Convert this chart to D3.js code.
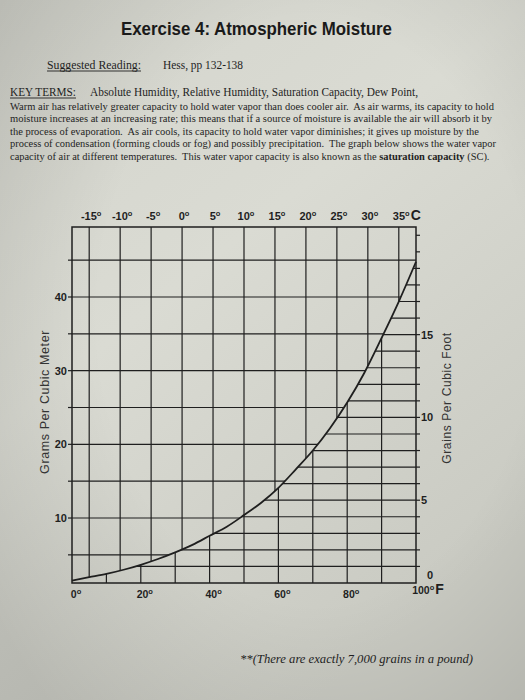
<!DOCTYPE html>
<html><head><meta charset="utf-8">
<script src="https://cdn.jsdelivr.net/npm/d3@7"></script>
<style>html,body{margin:0;padding:0;background:#d4d5cd;} svg{display:block}</style>
</head><body>
<script>
// ---- data ----
const tempF = [0,5,10,15,20,25,30,35,40,45,50,55,60,65,70,75,80,85,90,95,100];
const grainsPerCubicFoot = [0.15,0.35,0.55,0.8,1.1,1.45,1.85,2.3,2.85,3.4,4.1,4.85,5.75,6.85,8.0,9.35,10.9,12.7,14.8,17.0,19.4];
const celsiusTicks = [-15,-10,-5,0,5,10,15,20,25,30,35];
const fahrenheitTicks = [0,20,40,60,80,100];
const fahrenheitGrid = [10,20,30,40,50,60,70,80,90];
const gramTicks = [10,20,30,40];
const gramGrid = [5,10,15,20,25,30,35,40,45];
const grainTicks = [5,10,15];
const grainGrid = [1,2,3,4,5,6,7,8,9,10,11,12,13,14,15,16,17,18,19,20,21];
const titleText = "Exercise 4: Atmospheric Moisture";
const paragraphLines = [
  "Warm air has relatively greater capacity to hold water vapor than does cooler air.  As air warms, its capacity to hold",
  "moisture increases at an increasing rate; this means that if a source of moisture is available the air will absorb it by",
  "the process of evaporation.  As air cools, its capacity to hold water vapor diminishes; it gives up moisture by the",
  "process of condensation (forming clouds or fog) and possibly precipitation.  The graph below shows the water vapor"
];
const lastLineParts = ["capacity of air at different temperatures.  This water vapor capacity is also known as the ", "saturation capacity", " (SC)."];
const lineWidths = [484, 482, 469, 486, 480];

const W = 525, H = 700;
const X0 = 72, X1 = 416, Y0 = 227, Y1 = 583;
const ink = "#1f1f1f";

const svg = d3.select("body").append("svg").attr("width", W).attr("height", H);
const defs = svg.append("defs");
const lg = defs.append("linearGradient").attr("id","paper").attr("x1","0").attr("y1","0").attr("x2","0.6").attr("y2","1");
lg.append("stop").attr("offset","0").attr("stop-color","#d3d4cc");
lg.append("stop").attr("offset","0.45").attr("stop-color","#dadbd3");
lg.append("stop").attr("offset","1").attr("stop-color","#c9cac2");
const rg = defs.append("radialGradient").attr("id","vig").attr("cx","0.6").attr("cy","0.45").attr("r","0.75");
rg.append("stop").attr("offset","0.55").attr("stop-color","#000").attr("stop-opacity",0);
rg.append("stop").attr("offset","1").attr("stop-color","#000").attr("stop-opacity",0.12);
svg.append("rect").attr("width",W).attr("height",H).attr("fill","url(#paper)");
svg.append("rect").attr("width",W).attr("height",H).attr("fill","url(#vig)");

// ---- scales ----
const x = d3.scaleLinear().domain([0,100]).range([X0,X1]);
const xC = d3.scaleLinear().domain([(0-32)*5/9,(100-32)*5/9]).range([X0,X1]);
const yGrain = d3.scaleLinear().domain([0,21.5]).range([Y1,Y0]);
const yGram = d3.scaleLinear().domain([0,49.5]).range([591.7,Y0]);

const pts = tempF.map((t,i)=>[x(t), yGrain(grainsPerCubicFoot[i])]);
const line = d3.line().curve(d3.curveMonotoneX);
const curvePath = line(pts);

// clip regions above / below curve
defs.append("clipPath").attr("id","above").append("path")
  .attr("d", curvePath + `L${X1},${Y0-2}L${X0},${Y0-2}Z`);
defs.append("clipPath").attr("id","below").append("path")
  .attr("d", curvePath + `L${X1+1},${Y1+2}L${X0},${Y1+2}Z`);

const gAbove = svg.append("g").attr("clip-path","url(#above)").attr("stroke",ink).attr("stroke-width",1.2);
gAbove.selectAll("line.c").data(celsiusTicks).join("line")
  .attr("x1",d=>xC(d)).attr("x2",d=>xC(d)).attr("y1",Y0).attr("y2",Y1);
gAbove.selectAll("line.g").data(gramGrid).join("line")
  .attr("x1",X0).attr("x2",X1).attr("y1",d=>yGram(d)).attr("y2",d=>yGram(d));

const gBelow = svg.append("g").attr("clip-path","url(#below)").attr("stroke",ink).attr("stroke-width",1.2);
gBelow.selectAll("line.f").data(fahrenheitGrid).join("line")
  .attr("x1",d=>x(d)).attr("x2",d=>x(d)).attr("y1",Y0).attr("y2",Y1);
gBelow.selectAll("line.r").data(grainGrid).join("line")
  .attr("x1",X0).attr("x2",X1).attr("y1",d=>yGrain(d)).attr("y2",d=>yGrain(d));

// border
svg.append("rect").attr("x",X0).attr("y",Y0).attr("width",X1-X0).attr("height",Y1-Y0)
  .attr("fill","none").attr("stroke",ink).attr("stroke-width",1.5);

// curve
svg.append("path").attr("d",curvePath).attr("fill","none").attr("stroke",ink).attr("stroke-width",1.8);

// outer ticks
svg.append("g").selectAll("line").data(gramGrid).join("line")
  .attr("x1",X0-4).attr("x2",X0).attr("y1",d=>yGram(d)).attr("y2",d=>yGram(d))
  .attr("stroke",ink).attr("stroke-width",1.2);
svg.append("g").selectAll("line").data(grainGrid.filter(d=>yGrain(d)>Y0+2)).join("line")
  .attr("x1",X1).attr("x2",X1+4).attr("y1",d=>yGrain(d)).attr("y2",d=>yGrain(d))
  .attr("stroke",ink).attr("stroke-width",1.2);

// degree helper
function degLabel(sel, num, suffix, suffixSize){
  sel.append("tspan").text(num);
  sel.append("tspan").attr("dy",-4.5).attr("font-size",7.5).text("o");
  if (suffix) sel.append("tspan").attr("dy",4.5).attr("dx",1).attr("font-size",suffixSize).text(suffix);
}
const axFont = "Liberation Sans, Arial, sans-serif";

// top celsius labels
celsiusTicks.forEach(c=>{
  const t = svg.append("text").attr("x",xC(c)+2).attr("y",220).attr("text-anchor","middle")
    .attr("font-family",axFont).attr("font-weight","bold").attr("font-size",11).attr("fill",ink);
  if (c===35) { t.attr("x", xC(c)+8); degLabel(t, "35", "C", 14); }
  else degLabel(t, (c<0?"-":"")+Math.abs(c), null);
});

// bottom fahrenheit labels
fahrenheitTicks.forEach(f=>{
  const t = svg.append("text").attr("x",x(f)+ (f===100?12:4)).attr("y",(f===100?594:598)).attr("text-anchor","middle")
    .attr("font-family",axFont).attr("font-weight","bold").attr("font-size",10.5).attr("fill",ink);
  if (f===100) degLabel(t, "100", "F", 14);
  else degLabel(t, String(f), null);
});

// left gram labels
svg.append("g").selectAll("text").data(gramTicks).join("text")
  .attr("x",67).attr("y",d=>yGram(d)+4).attr("text-anchor","end")
  .attr("font-family",axFont).attr("font-weight","bold").attr("font-size",11).attr("fill",ink)
  .text(d=>d);
// right grain labels
svg.append("g").selectAll("text").data(grainTicks).join("text")
  .attr("x",421).attr("y",d=>yGrain(d)+4)
  .attr("font-family",axFont).attr("font-weight","bold").attr("font-size",11).attr("fill",ink)
  .text(d=>d);
svg.append("text").attr("x",427).attr("y",579)
  .attr("font-family",axFont).attr("font-weight","bold").attr("font-size",11).attr("fill",ink).text("0");

// axis titles
svg.append("text").attr("transform","translate(49,402) rotate(-90)").attr("text-anchor","middle")
  .attr("font-family",axFont).attr("font-size",12.5).attr("fill","#333").attr("letter-spacing",0.6)
  .text("Grams  Per  Cubic  Meter");
svg.append("text").attr("transform","translate(451,398) rotate(-90)").attr("text-anchor","middle")
  .attr("font-family",axFont).attr("font-size",12).attr("fill","#333").attr("letter-spacing",0.6)
  .text("Grains  Per  Cubic  Foot");

// ---- page text ----
svg.append("text").attr("x",121).attr("y",35).attr("textLength",271).attr("lengthAdjust","spacingAndGlyphs")
  .attr("font-family",axFont).attr("font-weight","bold").attr("font-size",18).attr("fill","#1a1a1a")
  .text(titleText);

const serif = "Liberation Serif, Times New Roman, serif";
svg.append("text").attr("x",47).attr("y",69).attr("font-family",serif).attr("font-size",12.5).attr("fill",ink)
  .attr("textLength",94).attr("lengthAdjust","spacingAndGlyphs").text("Suggested Reading:");
svg.append("line").attr("x1",47).attr("x2",141).attr("y1",71).attr("y2",71).attr("stroke",ink).attr("stroke-width",0.9);
svg.append("text").attr("x",163).attr("y",69).attr("font-family",serif).attr("font-size",12.5).attr("fill",ink)
  .attr("textLength",80).attr("lengthAdjust","spacingAndGlyphs").text("Hess, pp 132-138");

svg.append("text").attr("x",10).attr("y",96).attr("font-family",serif).attr("font-size",12.5).attr("fill",ink)
  .attr("textLength",66).attr("lengthAdjust","spacingAndGlyphs").text("KEY TERMS:");
svg.append("line").attr("x1",10).attr("x2",76).attr("y1",98).attr("y2",98).attr("stroke",ink).attr("stroke-width",0.9);
svg.append("text").attr("x",90).attr("y",96).attr("font-family",serif).attr("font-size",12.5).attr("fill",ink)
  .attr("textLength",328).attr("lengthAdjust","spacingAndGlyphs")
  .text("Absolute Humidity, Relative Humidity, Saturation Capacity, Dew Point,");

paragraphLines.forEach((s,i)=>{
  svg.append("text").attr("x",10).attr("y",110+i*12.4).attr("font-family",serif).attr("font-size",11).attr("fill",ink)
    .attr("textLength",lineWidths[i]).attr("lengthAdjust","spacingAndGlyphs").attr("xml:space","preserve").text(s);
});
// last line: one text with a bold span; font size tuned so the line fits its measured width
const last = svg.append("text").attr("x",10).attr("y",110+4*12.4).attr("font-family",serif).attr("font-size",11)
  .attr("fill",ink).attr("xml:space","preserve");
lastLineParts.forEach((s,i)=>last.append("tspan").attr("font-weight", i===1 ? "bold" : "normal").text(s));
const nat = last.node().getComputedTextLength();
last.attr("font-size", (11*lineWidths[4]/nat).toFixed(2));

svg.append("text").attr("x",240).attr("y",663).attr("font-family",serif).attr("font-style","italic").attr("font-size",11.5)
  .attr("fill",ink).attr("textLength",233).attr("lengthAdjust","spacingAndGlyphs")
  .text("**(There are exactly 7,000 grains in a pound)");
</script>
</body></html>
